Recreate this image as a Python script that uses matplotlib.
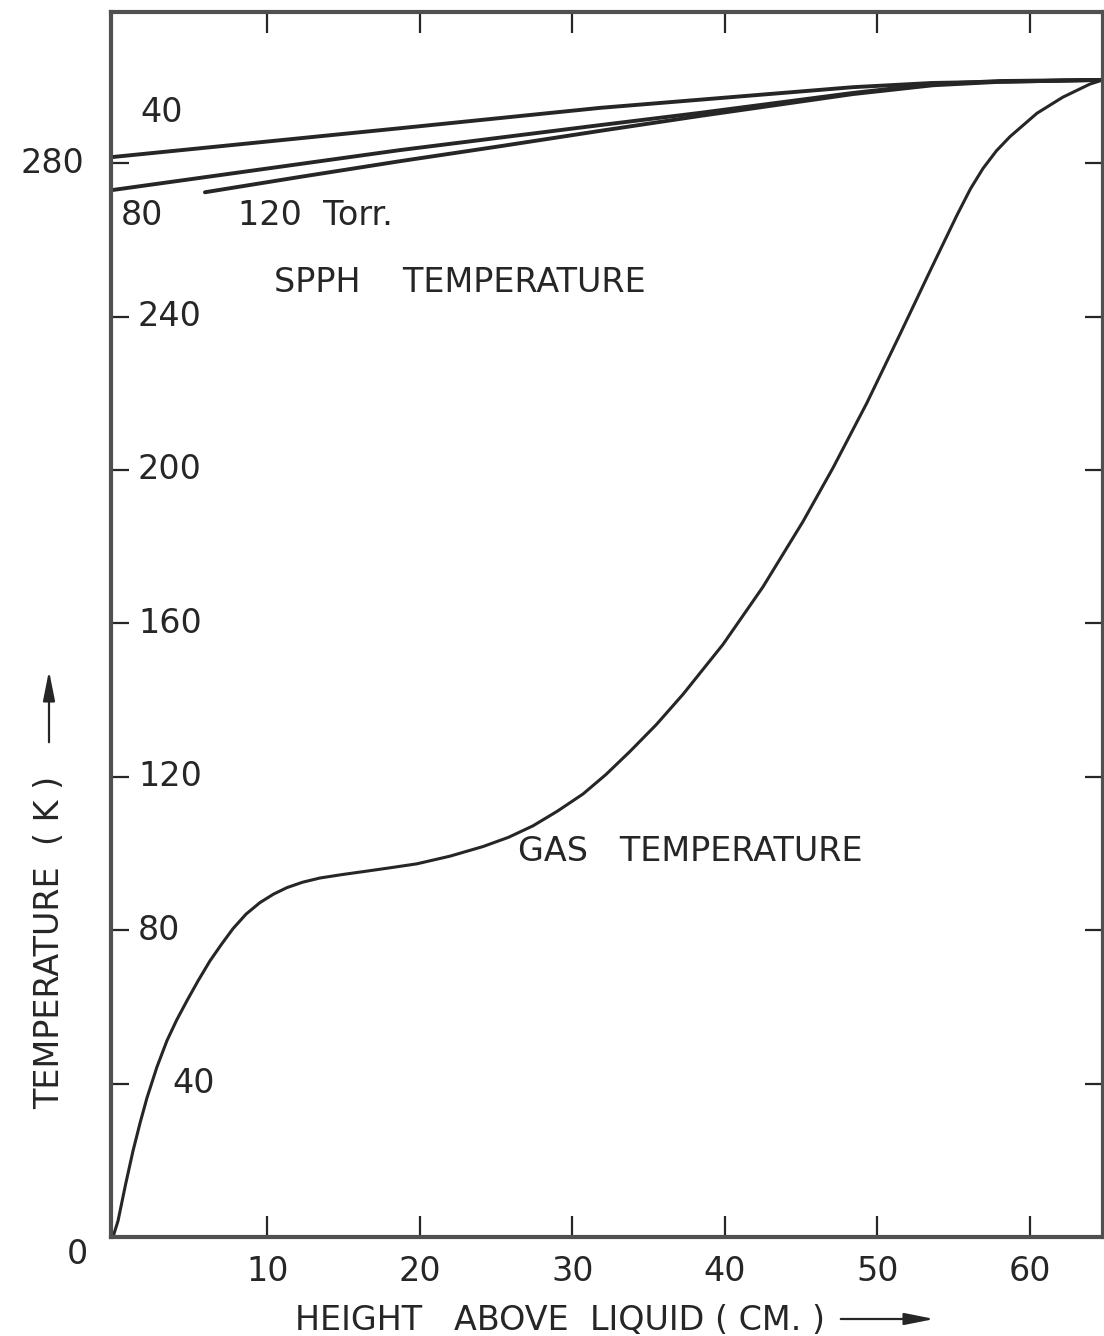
import matplotlib
matplotlib.use('Agg')
import matplotlib.pyplot as plt
import matplotlib.transforms as mtransforms
from matplotlib.patches import FancyArrowPatch

# ---------------- data ----------------
gas_height_cm = [-0.13, 0.20, 0.70, 1.18, 1.65, 2.10, 2.75, 3.41, 4.05, 4.72, 5.45,
                 6.23, 7.00, 7.74, 8.60, 9.51, 10.40, 11.28, 12.30, 13.44, 14.90,
                 16.52, 18.10, 19.80, 21.97, 24.13, 25.80, 27.41, 29.00, 30.69,
                 32.20, 33.77, 35.50, 37.25, 39.87, 42.49, 45.11, 47.08, 49.31,
                 51.48, 53.44, 55.21, 56.10, 56.92, 57.80, 58.69, 60.46, 62.16,
                 63.93, 64.79]
gas_temp_k = [0.0, 4.2, 13.8, 22.4, 29.8, 36.3, 44.3, 51.2, 56.6, 61.6, 66.8,
              72.0, 76.4, 80.4, 84.2, 87.2, 89.4, 91.1, 92.5, 93.6, 94.5,
              95.4, 96.3, 97.3, 99.3, 101.8, 104.2, 107.2, 111.0, 115.5,
              120.6, 126.6, 133.6, 141.5, 154.5, 169.5, 186.5, 200.5, 217.5,
              235.4, 251.8, 266.4, 273.3, 278.6, 283.2, 286.9, 293.0, 297.2,
              300.6, 301.7]

spph40_height_cm = [-0.13, 18.7, 31.8, 48.4, 53.6, 64.79]
spph40_temp_k = [281.6, 289.1, 294.4, 299.8, 300.9, 301.7]

spph80_height_cm = [-0.13, 18.7, 31.8, 38.36, 48.4, 53.6, 58.0, 64.79]
spph80_temp_k = [273.0, 283.4, 289.9, 293.1, 298.3, 300.6, 301.4, 301.7]

spph120_height_cm = [5.90, 12.13, 18.69, 25.25, 31.80, 38.36, 48.39, 53.64, 58.03, 64.79]
spph120_temp_k = [272.4, 276.4, 280.5, 284.4, 288.4, 292.3, 298.0, 300.3, 301.2, 301.7]

x_ticks = [10, 20, 30, 40, 50, 60]
x_tick_labels = ['10', '20', '30', '40', '50', '60']
y_ticks = [40, 80, 120, 160, 200, 240, 280]
y_inside_labels = ['240', '200', '160', '120', '80']
y_inside_values = [240, 200, 160, 120, 80]

# ---------------- figure ----------------
W, H = 1104, 1336
fig = plt.figure(figsize=(W / 100, H / 100), dpi=100)
fig.patch.set_facecolor('white')
plt.rcParams['font.family'] = ['DejaVu Sans']

ax_l, ax_r, ax_t, ax_b = 111, 1103, 12, 1237
ax = fig.add_axes([ax_l / W, 1 - ax_b / H, (ax_r - ax_l) / W, (ax_b - ax_t) / H])
ax.set_xlim(-0.26, 64.79)
ax.set_ylim(0, 319.4)

ink = '#262626'
fs = 24

ax.plot(gas_height_cm, gas_temp_k, color=ink, lw=2.2, solid_capstyle='round',
        solid_joinstyle='round', clip_on=False)
for xs, ys in [(spph40_height_cm, spph40_temp_k),
               (spph80_height_cm, spph80_temp_k),
               (spph120_height_cm, spph120_temp_k)]:
    ax.plot(xs, ys, color=ink, lw=2.8, solid_capstyle='round',
            solid_joinstyle='round', clip_on=False)

for s in ax.spines.values():
    s.set_color('#505050')
    s.set_linewidth(3.0)

ax.set_xticks(x_ticks)
ax.set_xticklabels(x_tick_labels, fontsize=fs, color=ink)
ax.set_yticks(y_ticks)
ax.tick_params(axis='x', which='both', direction='in', length=15, width=1.6,
               color=ink, top=True, bottom=True, pad=13)
ax.tick_params(axis='y', which='both', direction='in', length=13, width=1.6,
               color=ink, left=True, right=True, labelleft=False)

# y tick labels drawn inside the frame, like the original lettering
to_data_x = lambda px: (px - 115) / 15.25
blend = mtransforms.blended_transform_factory(ax.transAxes, ax.transData)
for lab, v in zip(y_inside_labels, y_inside_values):
    ax.text(to_data_x(138), v, lab, ha='left', va='center', fontsize=fs, color=ink)
ax.text(to_data_x(172), 40, '40', ha='left', va='center', fontsize=fs, color=ink)
ax.text((52 - ax_l) / (ax_r - ax_l), 280, '280', ha='center', va='center',
        fontsize=fs, color=ink, transform=blend)
ax.text((77 - ax_l) / (ax_r - ax_l), (ax_b - 1255) / (ax_b - ax_t), '0',
        ha='center', va='center', fontsize=fs, color=ink, transform=ax.transAxes)

# curve annotations
ax.text(to_data_x(162), 293.1, '40', ha='center', va='center', fontsize=fs, color=ink)
ax.text(to_data_x(142), 266.4, '80', ha='center', va='center', fontsize=fs, color=ink)
ax.text(to_data_x(238), 266.4, '120  Torr.', ha='left', va='center', fontsize=fs, color=ink)
ax.text(to_data_x(274), 249.0, 'SPPH    TEMPERATURE', ha='left', va='center', fontsize=fs, color=ink)
ax.text(to_data_x(518), 100.6, 'GAS   TEMPERATURE', ha='left', va='center', fontsize=fs, color=ink)

# axis titles with arrows
fig.text(295 / W, 1 - 1320 / H, 'HEIGHT   ABOVE  LIQUID ( CM. )', ha='left', va='center',
         fontsize=fs, color=ink)
fig.add_artist(FancyArrowPatch(
    (838 / W, 1 - 1319 / H), (937 / W, 1 - 1319 / H), transform=fig.transFigure,
    arrowstyle='-|>,head_length=0.9,head_width=0.18', color=ink, lw=1.6,
    mutation_scale=20))

fig.text(50 / W, 1 - 942 / H, 'TEMPERATURE  ( K )', ha='center', va='center',
         rotation=90, fontsize=fs, color=ink)
fig.add_artist(FancyArrowPatch(
    (49 / W, 1 - 745 / H), (49 / W, 1 - 668 / H), transform=fig.transFigure,
    arrowstyle='-|>,head_length=0.9,head_width=0.18', color=ink, lw=1.6,
    mutation_scale=20))

fig.savefig('out.png', dpi=100, facecolor='white')
